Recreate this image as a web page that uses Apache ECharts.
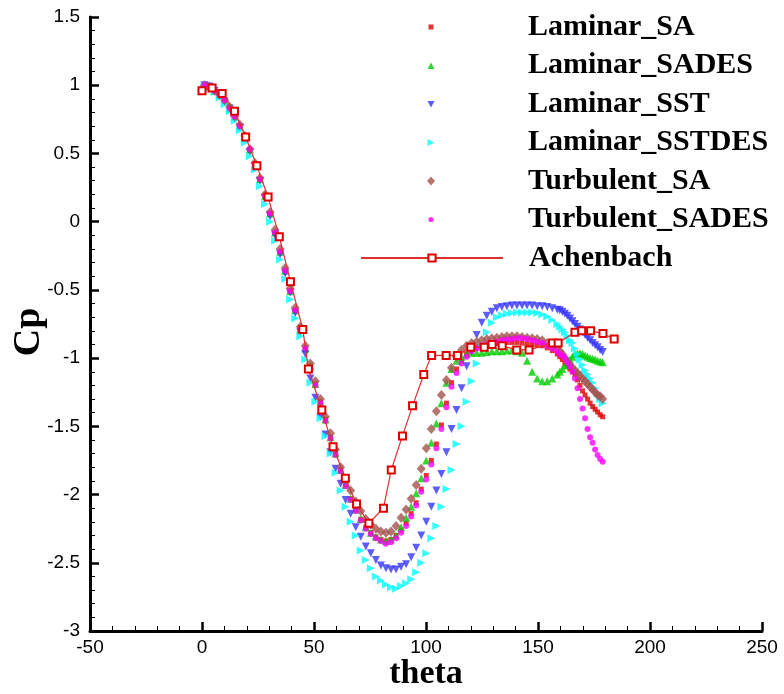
<!DOCTYPE html>
<html><head><meta charset="utf-8">
<script src="https://cdn.jsdelivr.net/npm/echarts@6/dist/echarts.min.js"></script>
<style>html,body{margin:0;padding:0;background:#fff}#c{width:784px;height:694px}</style>
</head><body><div id="c"></div>
<script>
// Simulation sample angles (deg)
const thetaSim = [
 1.125, 3.375, 5.625, 7.875, 10.125, 12.375, 14.625, 16.875, 19.125, 21.375,
 23.625, 25.875, 28.125, 30.375, 32.625, 34.875, 37.125, 39.375, 41.625, 43.875,
 46.125, 48.375, 50.625, 52.875, 55.125, 57.375, 59.625, 61.875, 64.125, 66.375,
 68.625, 70.875, 73.125, 75.375, 77.625, 79.875, 82.125, 84.375, 86.625, 88.875,
 91.125, 93.375, 95.625, 97.875, 100.125, 102.375, 104.625, 106.875, 109.125, 111.375,
 113.625, 115.875, 118.125, 120.375, 122.625, 124.875, 127.125, 129.375, 131.625, 133.875,
 136.125, 138.375, 140.625, 142.875, 145.125, 147.375, 149.625, 151.875, 154.125, 156.375,
 158.625,
 159.75, 160.875, 162, 163.125, 164.25, 165.375, 166.5, 167.625, 168.75, 169.875,
 171, 172.125, 173.25, 174.375, 175.5, 176.625, 177.75, 178.875
];
const laminarSA = [
 1.00, 0.99, 0.96, 0.93, 0.89, 0.83, 0.77, 0.70, 0.62, 0.53,
 0.42, 0.31, 0.19, 0.06, -0.08, -0.22, -0.36, -0.51, -0.65, -0.79,
 -0.93, -1.06, -1.19, -1.32, -1.45, -1.58, -1.70, -1.82, -1.93, -2.03,
 -2.11, -2.18, -2.24, -2.28, -2.31, -2.33, -2.34, -2.33, -2.30, -2.26,
 -2.21, -2.14, -2.06, -1.96, -1.86, -1.75, -1.63, -1.49, -1.33, -1.18,
 -1.08, -1.02, -0.97, -0.94, -0.92, -0.91, -0.90, -0.895, -0.89, -0.89,
 -0.885, -0.885, -0.885, -0.89, -0.895, -0.90, -0.905, -0.91, -0.925, -0.945,
 -0.97,
 -0.99, -1.01, -1.04, -1.06, -1.08, -1.10, -1.12, -1.16, -1.20, -1.24,
 -1.27, -1.30, -1.33, -1.355, -1.375, -1.395, -1.415, -1.43
];
const laminarSADES = [
 1.00, 0.99, 0.96, 0.93, 0.89, 0.83, 0.77, 0.70, 0.62, 0.53,
 0.42, 0.31, 0.19, 0.06, -0.08, -0.22, -0.36, -0.51, -0.65, -0.79,
 -0.93, -1.06, -1.19, -1.32, -1.45, -1.58, -1.70, -1.82, -1.93, -2.03,
 -2.11, -2.18, -2.24, -2.28, -2.31, -2.33, -2.34, -2.33, -2.30, -2.24,
 -2.17, -2.09, -1.99, -1.88, -1.75, -1.62, -1.48, -1.33, -1.18, -1.08,
 -1.02, -0.99, -0.97, -0.96, -0.96, -0.96, -0.955, -0.95, -0.95, -0.95,
 -0.945, -0.945, -0.95, -0.96, -1.02, -1.10, -1.15, -1.17, -1.17, -1.15,
 -1.12,
 -1.10, -1.08, -1.055, -1.03, -1.01, -0.99, -0.97, -0.965, -0.965, -0.97,
 -0.98, -0.99, -1.00, -1.005, -1.01, -1.02, -1.025, -1.03
];
const laminarSST = [
 1.00, 0.99, 0.96, 0.92, 0.88, 0.83, 0.76, 0.69, 0.61, 0.51,
 0.41, 0.30, 0.17, 0.04, -0.10, -0.24, -0.38, -0.52, -0.67, -0.81,
 -0.97, -1.15, -1.29, -1.43, -1.56, -1.69, -1.81, -1.92, -2.04, -2.14,
 -2.24, -2.31, -2.38, -2.43, -2.48, -2.52, -2.54, -2.55, -2.55, -2.53,
 -2.51, -2.46, -2.39, -2.30, -2.20, -2.09, -1.97, -1.85, -1.69, -1.52,
 -1.38, -1.22, -1.06, -0.95, -0.83, -0.74, -0.69, -0.66, -0.635, -0.625,
 -0.62, -0.615, -0.615, -0.615, -0.615, -0.615, -0.62, -0.62, -0.625, -0.635,
 -0.645,
 -0.65, -0.66, -0.675, -0.69, -0.71, -0.73, -0.75, -0.77, -0.79, -0.81,
 -0.83, -0.85, -0.87, -0.89, -0.905, -0.92, -0.94, -0.955
];
const laminarSSTDES = [
 0.99, 0.98, 0.95, 0.91, 0.86, 0.81, 0.74, 0.67, 0.58, 0.48,
 0.38, 0.26, 0.13, 0.00, -0.14, -0.28, -0.42, -0.57, -0.71, -0.84,
 -1.01, -1.18, -1.32, -1.44, -1.57, -1.70, -1.84, -1.97, -2.09, -2.20,
 -2.30, -2.41, -2.48, -2.54, -2.60, -2.63, -2.66, -2.68, -2.69, -2.67,
 -2.65, -2.62, -2.57, -2.50, -2.43, -2.32, -2.23, -2.09, -1.96, -1.82,
 -1.63, -1.50, -1.32, -1.17, -1.04, -0.92, -0.81, -0.74, -0.70, -0.685,
 -0.675, -0.67, -0.665, -0.665, -0.665, -0.665, -0.67, -0.68, -0.695, -0.72,
 -0.75,
 -0.77, -0.79, -0.81, -0.84, -0.87, -0.89, -0.93, -0.97, -1.01, -1.05,
 -1.09, -1.12, -1.15, -1.18, -1.22, -1.26, -1.30, -1.33
];
const turbulentSA = [
 1.00, 0.99, 0.96, 0.93, 0.89, 0.84, 0.77, 0.71, 0.63, 0.53,
 0.43, 0.32, 0.20, 0.07, -0.06, -0.20, -0.34, -0.49, -0.63, -0.77,
 -0.91, -1.04, -1.17, -1.30, -1.43, -1.55, -1.67, -1.80, -1.90, -1.97,
 -2.05, -2.12, -2.18, -2.22, -2.25, -2.27, -2.28, -2.27, -2.23, -2.17,
 -2.11, -2.03, -1.93, -1.81, -1.66, -1.52, -1.39, -1.27, -1.16, -1.07,
 -0.99, -0.94, -0.91, -0.89, -0.88, -0.87, -0.86, -0.855, -0.85, -0.845,
 -0.84, -0.84, -0.84, -0.845, -0.85, -0.855, -0.86, -0.87, -0.89, -0.90,
 -0.93,
 -0.95, -0.97, -1.00, -1.03, -1.05, -1.07, -1.09, -1.11, -1.13, -1.15,
 -1.17, -1.19, -1.21, -1.23, -1.25, -1.27, -1.28, -1.30
];
const turbulentSADES = [
 1.00, 0.99, 0.96, 0.93, 0.89, 0.83, 0.77, 0.70, 0.62, 0.53,
 0.42, 0.31, 0.19, 0.06, -0.08, -0.22, -0.36, -0.51, -0.65, -0.79,
 -0.93, -1.07, -1.20, -1.33, -1.46, -1.59, -1.71, -1.83, -1.94, -2.04,
 -2.12, -2.19, -2.25, -2.29, -2.32, -2.34, -2.36, -2.35, -2.32, -2.28,
 -2.23, -2.16, -2.08, -1.98, -1.89, -1.78, -1.66, -1.52, -1.36, -1.21,
 -1.11, -1.04, -0.99, -0.95, -0.93, -0.91, -0.90, -0.89, -0.88, -0.87,
 -0.865, -0.86, -0.855, -0.855, -0.86, -0.87, -0.88, -0.89, -0.91, -0.93,
 -0.95,
 -0.97, -0.98, -1.00, -1.03, -1.06, -1.10, -1.15, -1.22, -1.30, -1.37,
 -1.44, -1.52, -1.58, -1.62, -1.67, -1.71, -1.74, -1.76
];
// Experimental data (Achenbach)
const achTheta = [0, 4.5, 9, 14.5, 19.5, 24.5, 29.5, 34.5, 39.5, 45, 47.5, 53.5, 58.5, 64, 69, 74.5, 81, 84.5, 89.5, 94, 99, 102.5, 109, 114, 120, 126, 129.5, 134, 140.5, 146, 156.5, 159, 166.5, 169.5, 173.5, 179, 184];
const achCp = [0.96, 0.98, 0.94, 0.81, 0.62, 0.41, 0.18, -0.11, -0.44, -0.79, -1.08, -1.38, -1.65, -1.88, -2.07, -2.21, -2.10, -1.82, -1.57, -1.35, -1.12, -0.98, -0.98, -0.98, -0.92, -0.92, -0.90, -0.91, -0.94, -0.94, -0.89, -0.89, -0.81, -0.80, -0.80, -0.82, -0.86];

const seriesNames = ['Laminar_SA','Laminar_SADES','Laminar_SST','Laminar_SSTDES','Turbulent_SA','Turbulent_SADES','Achenbach'];

const simDefs = [
 {name:'Laminar_SA', vals:laminarSA, symbol:'rect', rotate:0, size:5, color:'#dd0000'},
 {name:'Laminar_SADES', vals:laminarSADES, symbol:'triangle', rotate:0, size:8, color:'#00cc00'},
 {name:'Laminar_SST', vals:laminarSST, symbol:'triangle', rotate:180, size:8, color:'#3333ff'},
 {name:'Laminar_SSTDES', vals:laminarSSTDES, symbol:'triangle', rotate:-90, size:8, color:'#00ffff'},
 {name:'Turbulent_SA', vals:turbulentSA, symbol:'diamond', rotate:0, size:[9,10], color:'#a5524f'},
 {name:'Turbulent_SADES', vals:turbulentSADES, symbol:'circle', rotate:0, size:6, color:'#ff00ff'}
];

// legend icons drawn inside a 142x9 box (invisible corner points keep the box size)
const BOX = 'path://M0,0M142,9';
const legendIcons = [
  BOX + 'M68.5,2L73.5,2L73.5,7L68.5,7Z',
  BOX + 'M67.5,8L74.5,8L71,1.5Z',
  BOX + 'M67.5,1.5L74.5,1.5L71,8Z',
  BOX + 'M67.5,1L74.5,4.5L67.5,8Z',
  BOX + 'M71,0L75,4.5L71,9L67,4.5Z',
  BOX + 'M73.6,4.5A2.6,2.6,0,1,1,68.4,4.5A2.6,2.6,0,1,1,73.6,4.5Z',
  null
];

const series = simDefs.map(d => ({
  name: d.name, type: 'scatter',
  data: thetaSim.map((t, i) => [t, d.vals[i]]),
  symbol: d.symbol, symbolRotate: d.rotate, symbolSize: d.size,
  itemStyle: {color: d.color}, emphasis: {disabled: true}
}));
series.push({
  name: 'Achenbach', type: 'line',
  data: achTheta.map((t, i) => [t, achCp[i]]),
  symbol: 'emptyRect', symbolSize: 7, showAllSymbol: true,
  itemStyle: {color: '#dd0000', borderWidth: 1.3},
  lineStyle: {color: '#dd3030', width: 1.2}, emphasis: {disabled: true}
});

const legends = seriesNames.map((n, i) => ({
  data: [legendIcons[i] ? {name: n, icon: legendIcons[i]} : {name: n}],
  orient: 'vertical', left: 360, top: 12 + 38.5 * i, padding: 0,
  itemWidth: 142, itemHeight: 9, symbolRotate: 0, selectedMode: false,
  textStyle: {fontFamily: 'Liberation Serif', fontWeight: 'bold', fontSize: 30, color: '#000', lineHeight: 30, padding: [0, 0, 0, 21]}
}));

const axisCommon = {
  axisLine: {show: true, onZero: false, lineStyle: {color: '#000', width: 3}},
  axisTick: {show: true, inside: true, length: 9, lineStyle: {color: '#000', width: 2.5}},
  minorTick: {show: true, splitNumber: 5, length: 5, lineStyle: {color: '#000', width: 1}},
  splitLine: {show: false},
  nameMoveOverlap: false,
  axisLabel: {color: '#000', fontSize: 19, fontFamily: 'Liberation Sans', showMinLabel: true, showMaxLabel: true}
};

const chart = echarts.init(document.getElementById('c'), null, {renderer: 'canvas'});
chart.setOption({
  animation: false,
  backgroundColor: '#fff',
  grid: {left: 90, right: 22, top: 17, bottom: 63, outerBoundsMode: 'none'},
  legend: legends,
  xAxis: Object.assign({}, axisCommon, {
    type: 'value', min: -50, max: 250, interval: 50,
    axisLabel: Object.assign({}, axisCommon.axisLabel, {margin: 7}),
    name: 'theta', nameLocation: 'middle', nameGap: 26,
    nameTextStyle: {fontFamily: 'Liberation Serif', fontWeight: 'bold', fontSize: 34, color: '#000'}
  }),
  yAxis: Object.assign({}, axisCommon, {
    type: 'value', min: -3, max: 1.5, interval: 0.5,
    axisLabel: Object.assign({}, axisCommon.axisLabel, {margin: 10}),
    name: 'Cp', nameLocation: 'middle', nameRotate: 90, nameGap: 42,
    nameTextStyle: {fontFamily: 'Liberation Serif', fontWeight: 'bold', fontSize: 38, color: '#000', padding: [0, 16, 0, 0]}
  }),
  series: series
});
</script></body></html>
